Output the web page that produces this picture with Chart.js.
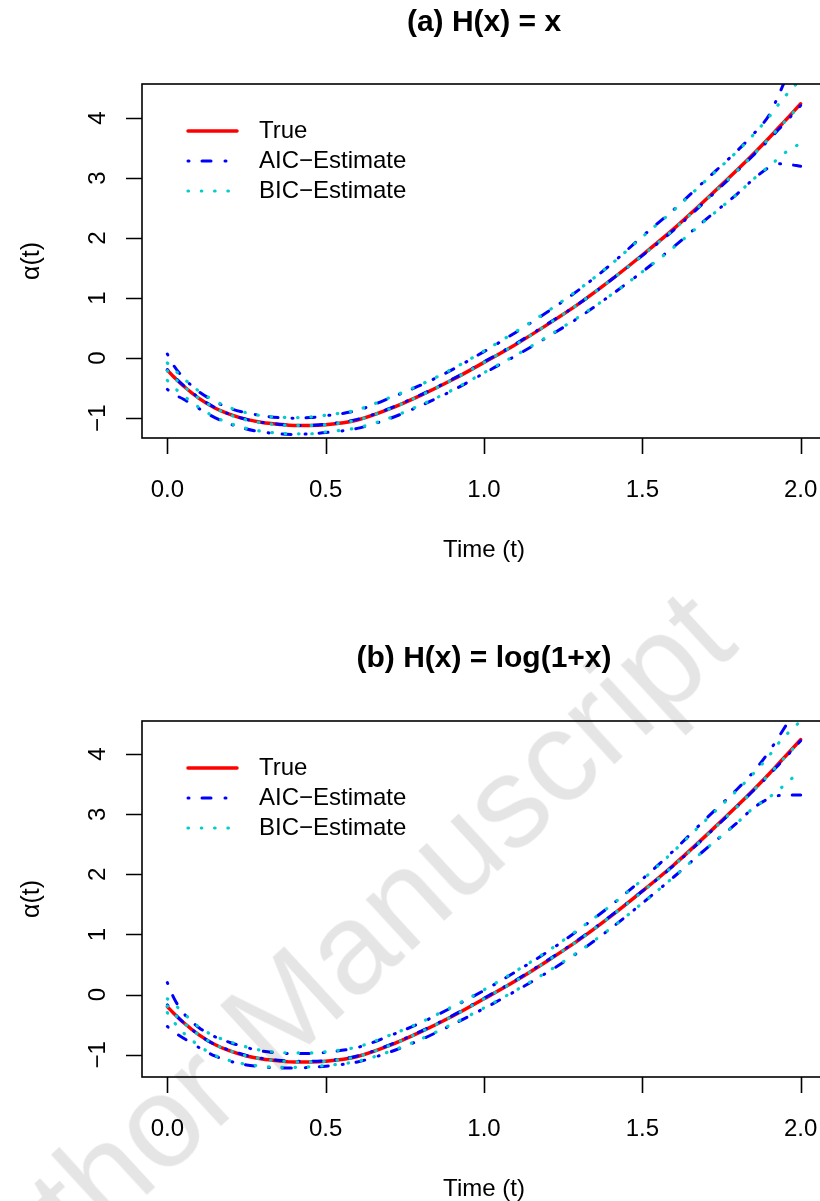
<!DOCTYPE html>
<html>
<head>
<meta charset="utf-8">
<script src="https://cdn.jsdelivr.net/npm/chart.js@4.4.1/dist/chart.umd.min.js"></script>
<style>
  html, body { margin: 0; padding: 0; background: #fff; overflow: hidden; }
  #page { position: relative; width: 820px; height: 1201px; overflow: hidden; }
  #page canvas { position: absolute; left: 0; }
  #panelA { top: 0; }
  #panelB { top: 636px; }
  #watermark {
    position: absolute; left: 322px; top: 972px;
    transform: translate(-50%, -50%) rotate(-42.6deg);
    font: 130px "Liberation Sans", Arial, sans-serif;
    color: rgba(0, 0, 0, 0.10);
    white-space: nowrap; line-height: 1; pointer-events: none;
  }
</style>
</head>
<body>
<div id="page">
  <canvas id="panelA" width="840" height="600"></canvas>
  <canvas id="panelB" width="840" height="600"></canvas>
  <div id="watermark">Author Manuscript</div>
</div>
<script>
// time grid
const timePoints = [0, 0.02, 0.05, 0.1, 0.15, 0.2, 0.25, 0.3, 0.35, 0.4, 0.45, 0.5, 0.6, 0.7, 0.8, 0.9, 1.0,
  1.1, 1.2, 1.3, 1.4, 1.5, 1.6, 1.7, 1.8, 1.85, 1.9, 1.93, 1.96, 2.0];

const trueAlpha = [-0.20, -0.31, -0.46, -0.67, -0.83, -0.94, -1.02, -1.07, -1.10, -1.12, -1.12, -1.11, -1.03, -0.85, -0.62, -0.36, -0.07,
  0.23, 0.56, 0.91, 1.30, 1.72, 2.16, 2.64, 3.14, 3.40, 3.67, 3.84, 4.01, 4.24];

// panel (a) H(x) = x
const aicEstA = [-0.19, -0.30, -0.45, -0.66, -0.82, -0.94, -1.02, -1.07, -1.10, -1.12, -1.12, -1.10, -1.02, -0.84, -0.61, -0.35, -0.06,
  0.24, 0.57, 0.91, 1.30, 1.71, 2.14, 2.62, 3.12, 3.38, 3.64, 3.81, 3.98, 4.21];
const aicUpA = [0.07, -0.12, -0.32, -0.56, -0.72, -0.84, -0.91, -0.96, -0.99, -1.00, -0.99, -0.96, -0.87, -0.67, -0.45, -0.19, 0.11,
  0.43, 0.77, 1.14, 1.56, 2.03, 2.48, 2.97, 3.46, 3.73, 4.05, 4.38, 4.75, 5.30];
const aicLoA = [-0.52, -0.60, -0.68, -0.84, -0.99, -1.10, -1.18, -1.23, -1.26, -1.27, -1.26, -1.24, -1.17, -1.01, -0.79, -0.54, -0.25,
  0.04, 0.35, 0.68, 1.05, 1.44, 1.86, 2.31, 2.74, 2.98, 3.18, 3.24, 3.23, 3.20];
const bicEstA = [-0.21, -0.32, -0.46, -0.67, -0.83, -0.95, -1.03, -1.08, -1.11, -1.12, -1.12, -1.11, -1.03, -0.85, -0.62, -0.36, -0.07,
  0.23, 0.56, 0.91, 1.30, 1.71, 2.15, 2.63, 3.13, 3.39, 3.66, 3.83, 4.00, 4.23];
const bicUpA = [-0.08, -0.18, -0.33, -0.55, -0.71, -0.83, -0.91, -0.96, -0.98, -0.99, -0.98, -0.95, -0.86, -0.66, -0.44, -0.18, 0.12,
  0.44, 0.78, 1.15, 1.56, 2.02, 2.47, 2.96, 3.45, 3.72, 4.02, 4.23, 4.42, 4.65];
const bicLoA = [-0.37, -0.48, -0.62, -0.82, -0.98, -1.09, -1.17, -1.22, -1.25, -1.26, -1.26, -1.23, -1.16, -1.00, -0.78, -0.53, -0.24,
  0.05, 0.36, 0.69, 1.05, 1.44, 1.85, 2.30, 2.74, 2.98, 3.20, 3.33, 3.46, 3.58];

// panel (b) H(x) = log(1+x)
const aicEstB = [-0.17, -0.30, -0.46, -0.67, -0.83, -0.93, -1.01, -1.06, -1.09, -1.11, -1.11, -1.10, -1.02, -0.84, -0.61, -0.35, -0.06,
  0.24, 0.57, 0.92, 1.31, 1.72, 2.15, 2.63, 3.13, 3.39, 3.65, 3.82, 3.99, 4.22];
const aicUpB = [0.20, -0.05, -0.30, -0.55, -0.70, -0.80, -0.88, -0.94, -0.97, -0.98, -0.98, -0.96, -0.88, -0.69, -0.47, -0.21, 0.07,
  0.38, 0.71, 1.08, 1.48, 1.92, 2.40, 2.92, 3.42, 3.70, 4.04, 4.28, 4.53, 4.85];
const aicLoB = [-0.53, -0.62, -0.72, -0.88, -1.02, -1.11, -1.17, -1.20, -1.22, -1.22, -1.21, -1.19, -1.12, -0.96, -0.75, -0.50, -0.23,
  0.06, 0.37, 0.71, 1.10, 1.52, 1.96, 2.42, 2.86, 3.10, 3.26, 3.31, 3.32, 3.32];
const bicEstB = [-0.19, -0.31, -0.46, -0.67, -0.83, -0.94, -1.02, -1.07, -1.10, -1.12, -1.12, -1.11, -1.03, -0.85, -0.62, -0.36, -0.07,
  0.23, 0.56, 0.91, 1.30, 1.71, 2.15, 2.63, 3.13, 3.39, 3.66, 3.83, 4.00, 4.23];
const bicUpB = [-0.07, -0.15, -0.30, -0.54, -0.69, -0.79, -0.87, -0.93, -0.96, -0.97, -0.97, -0.95, -0.87, -0.68, -0.46, -0.20, 0.08,
  0.39, 0.72, 1.09, 1.48, 1.91, 2.39, 2.90, 3.40, 3.67, 3.97, 4.18, 4.35, 4.55];
const bicLoB = [-0.30, -0.45, -0.63, -0.85, -1.01, -1.10, -1.16, -1.19, -1.21, -1.21, -1.20, -1.18, -1.11, -0.95, -0.74, -0.49, -0.22,
  0.07, 0.38, 0.72, 1.10, 1.52, 1.96, 2.42, 2.86, 3.10, 3.28, 3.40, 3.54, 3.72];

// axis ticks
const xTicks = [0, 0.5, 1, 1.5, 2];
const xTickLabels = ['0.0', '0.5', '1.0', '1.5', '2.0'];
const yTicks = [-1, 0, 1, 2, 3, 4];
const yTickLabels = ['\u22121', '0', '1', '2', '3', '4'];
const legendLabels = ['True', 'AIC\u2212Estimate', 'BIC\u2212Estimate'];

const FONT = '"Liberation Sans", Arial, Helvetica, sans-serif';
const RED = '#FF0000', BLUE = '#0000FF', CYAN = '#00CDCD';
const DOTDASH = [1, 13, 9, 14];
const DOTTED = [0.5, 12.8];

function toPoints(vals) {
  return timePoints.map((t, i) => ({ x: t, y: vals[i] }));
}

function lineSet(label, vals, color, dash, width) {
  return {
    label: label,
    data: toPoints(vals),
    borderColor: color,
    borderWidth: width,
    borderDash: dash,
    borderCapStyle: 'round',
    borderJoinStyle: 'round',
    cubicInterpolationMode: 'monotone',
    pointRadius: 0,
    fill: false
  };
}

// draws box, ticks, labels, title and legend in R's base style
const rStylePlugin = {
  id: 'rStyle',
  afterDraw(chart, args, opts) {
    const ctx = chart.ctx;
    const area = chart.chartArea;
    const xs = chart.scales.x, ys = chart.scales.y;
    const midX = (area.left + area.right) / 2;

    ctx.save();
    ctx.strokeStyle = '#000';
    ctx.lineWidth = 1.6;
    ctx.setLineDash([]);
    ctx.strokeRect(area.left, area.top, area.right - area.left, area.bottom - area.top);

    ctx.beginPath();
    xTicks.forEach(v => {
      const px = Math.round(xs.getPixelForValue(v)) + 0.5;
      ctx.moveTo(px, area.bottom);
      ctx.lineTo(px, area.bottom + 16);
    });
    yTicks.forEach(v => {
      const py = Math.round(ys.getPixelForValue(v)) + 0.5;
      ctx.moveTo(area.left, py);
      ctx.lineTo(area.left - 16, py);
    });
    ctx.stroke();

    ctx.fillStyle = '#000';
    ctx.font = '24px ' + FONT;
    ctx.textAlign = 'center';
    ctx.textBaseline = 'middle';
    xTicks.forEach((v, i) => {
      ctx.fillText(xTickLabels[i], xs.getPixelForValue(v), area.bottom + 52);
    });
    yTicks.forEach((v, i) => {
      ctx.save();
      ctx.translate(area.left - 44, ys.getPixelForValue(v));
      ctx.rotate(-Math.PI / 2);
      ctx.fillText(yTickLabels[i], 0, 0);
      ctx.restore();
    });

    ctx.fillText('Time (t)', midX, area.bottom + 112);
    ctx.save();
    ctx.translate(32, (area.top + area.bottom) / 2);
    ctx.rotate(-Math.PI / 2);
    ctx.font = '25px ' + FONT;
    ctx.fillText('\u03B1(t)', 0, 0);
    ctx.restore();

    ctx.font = 'bold 30px ' + FONT;
    ctx.fillText(opts.title, midX, 23);

    // legend
    const styles = [
      { color: RED, dash: [], width: 3.5 },
      { color: BLUE, dash: DOTDASH, width: 3 },
      { color: CYAN, dash: DOTTED, width: 3.2 }
    ];
    ctx.font = '24px ' + FONT;
    ctx.textAlign = 'left';
    styles.forEach((s, i) => {
      const y = area.top + 47 + i * 30;
      ctx.beginPath();
      ctx.strokeStyle = s.color;
      ctx.lineWidth = s.width;
      ctx.lineCap = 'round';
      ctx.setLineDash(s.dash);
      ctx.moveTo(188, y);
      ctx.lineTo(237, y);
      ctx.stroke();
      ctx.fillText(legendLabels[i], 259, y);
    });
    ctx.restore();
  }
};

function makePanel(canvasId, title, series, yMin, yMax, padTop, padBottom) {
  const ctx = document.getElementById(canvasId).getContext('2d');
  return new Chart(ctx, {
    type: 'line',
    data: {
      datasets: [
        lineSet('BIC', series.bicEst, CYAN, DOTTED, 3.2),
        lineSet('BIC upper', series.bicUp, CYAN, DOTTED, 3.2),
        lineSet('BIC lower', series.bicLo, CYAN, DOTTED, 3.2),
        lineSet('AIC', series.aicEst, BLUE, DOTDASH, 3),
        lineSet('AIC upper', series.aicUp, BLUE, DOTDASH, 3),
        lineSet('AIC lower', series.aicLo, BLUE, DOTDASH, 3),
        lineSet('True', trueAlpha, RED, [], 3.5)
      ]
    },
    options: {
      responsive: false,
      animation: false,
      devicePixelRatio: 1,
      layout: { padding: { left: 142, right: 14, top: padTop, bottom: padBottom } },
      scales: {
        x: { type: 'linear', min: -0.08, max: 2.08, display: false },
        y: { type: 'linear', min: yMin, max: yMax, display: false }
      },
      plugins: {
        legend: { display: false },
        tooltip: { enabled: false },
        rStyle: { title: title }
      }
    },
    plugins: [rStylePlugin]
  });
}

makePanel('panelA', '(a) H(x) = x',
  { aicEst: aicEstA, aicUp: aicUpA, aicLo: aicLoA, bicEst: bicEstA, bicUp: bicUpA, bicLo: bicLoA },
  -1.33, 4.57, 84, 162);
makePanel('panelB', '(b) H(x) = log(1+x)',
  { aicEst: aicEstB, aicUp: aicUpB, aicLo: aicLoB, bicEst: bicEstB, bicUp: bicUpB, bicLo: bicLoB },
  -1.37, 4.55, 85, 159);
</script>
</body>
</html>
